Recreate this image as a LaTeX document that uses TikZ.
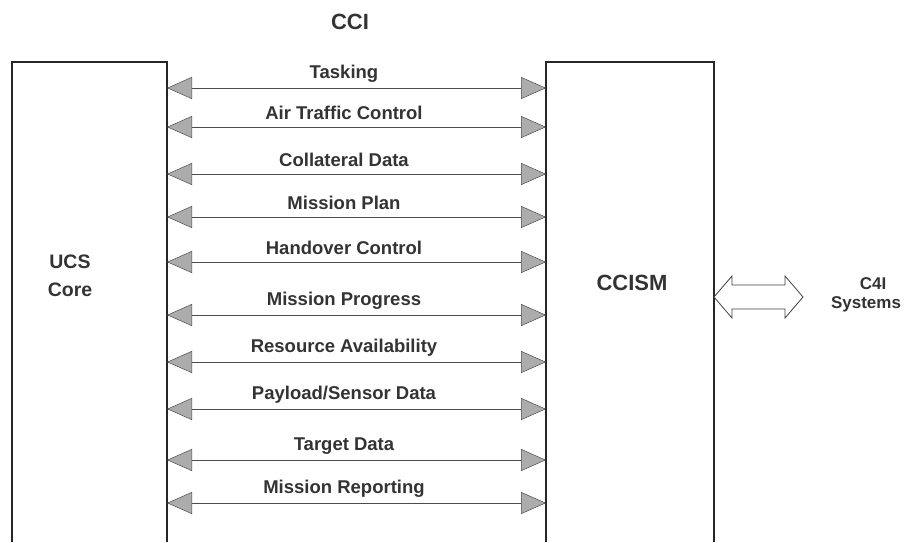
\documentclass[tikz,border=0pt]{standalone}
\usepackage{fontspec}
\setmainfont{Liberation Sans}
\usetikzlibrary{arrows.meta}
\tikzset{
  boxline/.style={draw=black!85, line width=1.2pt},
  tip/.style={},
  link/.style={draw=black!70, line width=0.6pt,
    {Triangle[length=25pt,width=22pt,fill=gray!65,color=gray!60!black,line width=0.5pt]}-{Triangle[length=25pt,width=22pt,fill=gray!65,color=gray!60!black,line width=0.5pt]}},
  lbl/.style={font=\fontsize{18.5}{20}\selectfont\bfseries, text=black!80, inner sep=0pt},
  big/.style={font=\fontsize{22}{24}\selectfont\bfseries, text=black!80, inner sep=0pt},
  mid/.style={font=\fontsize{19.5}{22}\selectfont\bfseries, text=black!80, inner sep=0pt, align=center},
  sml/.style={font=\fontsize{17}{20}\selectfont\bfseries, text=black!80, inner sep=0pt, align=center},
  dbl/.style={draw=black!75, line width=0.8pt, fill=white}
}
\begin{document}
\begin{tikzpicture}[x=1pt,y=-1pt]
\useasboundingbox (0,0) rectangle (924,542);
% open-bottom boxes
\coordinate (ucsBL) at (12,542);
\coordinate (ucsTL) at (12,62);
\coordinate (ucsTR) at (167,62);
\coordinate (ucsBR) at (167,542);
\coordinate (cciBL) at (546,542);
\coordinate (cciTL) at (546,62);
\coordinate (cciTR) at (714,62);
\coordinate (cciBR) at (714,542);
\draw[boxline] (ucsBL) -- (ucsTL) -- (ucsTR) -- (ucsBR);
\draw[boxline] (cciBL) -- (cciTL) -- (cciTR) -- (cciBR);

\node[big] (cci) at (350,22) {CCI};
\node[mid] (ucs) at (70,262) {UCS};
\node[mid] (core) at (70,290) {Core};
\node[big] (ccism) at (632,283) {CCISM};
\node[sml] (c4i) at (873,284) {C4I};
\node[sml] (sys) at (866,304) {Systems};

% interface flows
\foreach \i/\y/\t in {1/88/Tasking, 2/127/Air Traffic Control, 3/174/Collateral Data,
  4/217/Mission Plan, 5/262/Handover Control, 6/315/Mission Progress,
  7/362/Resource Availability, 8/409/Payload\slash Sensor Data,
  9/460/Target Data, 10/503/Mission Reporting}{
  \coordinate (L\i) at (167,\y);
  \coordinate (R\i) at (546,\y);
  \draw[link] (L\i) -- (R\i);
  \node[lbl] (t\i) at (344,\y-14) {\t};
}

% double outline arrow CCISM <-> C4I
\coordinate (dl) at (714,297);
\coordinate (dr) at (803,297);
\draw[dbl] (dl) -- (732,276) -- (732,285) -- (785,285) -- (785,276) -- (dr)
  -- (785,318) -- (785,309) -- (732,309) -- (732,318) -- cycle;
\end{tikzpicture}
\end{document}
